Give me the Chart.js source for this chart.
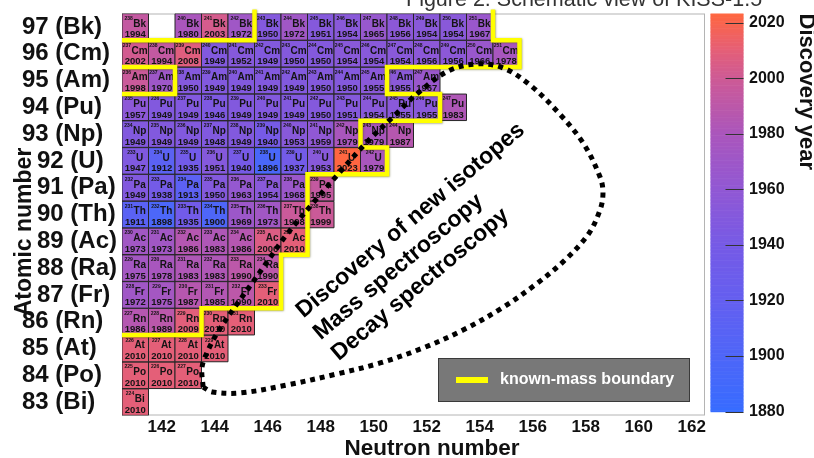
<!DOCTYPE html>
<html><head><meta charset="utf-8">
<script src="https://cdn.jsdelivr.net/npm/chart.js@4.4.1/dist/chart.umd.min.js"></script>
<style>html,body{margin:0;padding:0;background:#fff;overflow:hidden}#wrap{width:814px;height:458px;position:relative}</style>
</head><body><div id="wrap"><canvas id="c" width="814" height="458"></canvas></div>
<script>
// ---------------- data ----------------
const elementSymbols = ['Bi','Po','At','Rn','Fr','Ra','Ac','Th','Pa','U','Np','Pu','Am','Cm','Bk'];
const protonNumbers  = [83,84,85,86,87,88,89,90,91,92,93,94,95,96,97];
const indentedRows   = [87,88,89,90,91,92]; // labels set in beside the axis title
const firstNeutron = 141; // every row starts at N = 141
const yearsBi = [2010];
const yearsPo = [2010,2010,2010];
const yearsAt = [2010,2010,2010,2010];
const yearsRn = [1986,1989,2009,2010,2010];
const yearsFr = [1972,1975,1987,1985,1990,2010];
const yearsRa = [1975,1978,1983,1983,1990,1990];
const yearsAc = [1973,1973,1986,1983,1986,2006,2010];
const yearsTh = [1911,1898,1935,1900,1969,1973,1998,1999];
const yearsPa = [1949,1938,1913,1950,1963,1954,1968,1995];
const yearsU  = [1947,1912,1935,1951,1940,1896,1937,1953,2023,1979];
const yearsNp = [1949,1949,1949,1948,1949,1940,1953,1959,1979,1979,1987];
const yearsPu = [1957,1949,1949,1946,1949,1949,1949,1950,1951,1954,1955,1955,1983];
const yearsAm = [1998,1970,1950,1949,1949,1949,1949,1950,1950,1955,1955,1967];
const yearsCm = [2002,1994,2008,1949,1952,1949,1950,1950,1954,1954,1954,1956,1956,1966,1978];
const yearsBk = [1994,null,1980,2003,1972,1950,1972,1951,1954,1965,1956,1954,1954,1967];
const yearRows = [yearsBi,yearsPo,yearsAt,yearsRn,yearsFr,yearsRa,yearsAc,yearsTh,yearsPa,yearsU,yearsNp,yearsPu,yearsAm,yearsCm,yearsBk];

const neutronTicks = [142,144,146,148,150,152,154,156,158,160,162];
const yearTicks = [1880,1900,1920,1940,1960,1980,2000,2020];

// known-mass boundary (N, Z) – three pieces
const boundaryTopN  = [140.5,145.5,145.5];
const boundaryTopZ  = [96.5,96.5,97.65];
const boundaryAmN   = [140.5,142.5,142.5,140.5];
const boundaryAmZ   = [95.5,95.5,94.5,94.5];
const boundaryMainN = [154.5,154.5,155.5,155.5,150.5,150.5,152.5,152.5,149.5,149.5,150.5,150.5,147.5,147.5,146.5,146.5,143.5,143.5,140.5];
const boundaryMainZ = [97.65,96.5,96.5,95.5,95.5,94.5,94.5,93.5,93.5,92.5,92.5,91.5,91.5,88.5,88.5,86.5,86.5,85.5,85.5];

// dotted "new isotopes" region outline (N, Z)
const regionN = [143.56,143.52,143.75,144.12,144.76,145.41,146.08,146.76,147.71,148.73,149.75,150.80,151.63,152.80,153.90,154.88,155.90,156.95,157.90,158.54,158.65,158.54,158.08,157.14,156.08,154.84,153.37,151.86,150.24,148.61,146.73,144.95,143.90,143.56];
const regionZ = [83.56,84.31,84.94,85.62,86.55,87.44,88.38,89.31,90.43,91.59,92.71,93.71,94.50,95.35,95.62,95.47,94.83,93.82,92.67,91.40,90.80,90.17,89.24,88.23,87.37,86.51,85.69,85.02,84.46,84.05,83.64,83.34,83.38,83.56];

const annotationLines = ['Discovery of new isotopes','Mass spectroscopy','Decay spectroscopy'];
const annotationN = [147.35,148.0,148.68];
const annotationZ = [86.12,85.3,84.52];

// ---------------- style ----------------
const FF = "'Liberation Sans', Arial, Helvetica, sans-serif";
const paletteYears = [1880,1900,1920,1940,1960,1980,2000,2010,2023];
const paletteRGB = [[55,108,255],[78,102,248],[100,95,240],[118,90,230],[145,88,212],[170,86,188],[205,90,150],[228,95,120],[255,102,65]];
function yearColor(y){
  if (y <= paletteYears[0]) return `rgb(${paletteRGB[0].join(',')})`;
  for (let i=0;i<paletteYears.length-1;i++){
    if (y <= paletteYears[i+1]){
      const t=(y-paletteYears[i])/(paletteYears[i+1]-paletteYears[i]);
      const a=paletteRGB[i], b=paletteRGB[i+1];
      return `rgb(${Math.round(a[0]+(b[0]-a[0])*t)},${Math.round(a[1]+(b[1]-a[1])*t)},${Math.round(a[2]+(b[2]-a[2])*t)})`;
    }
  }
  return `rgb(${paletteRGB[paletteRGB.length-1].join(',')})`;
}

const cellPoints = [];
protonNumbers.forEach((z,i)=>{
  yearRows[i].forEach((yr,k)=>{
    if (yr!==null) cellPoints.push({x:firstNeutron+k, y:z, year:yr, mass:z+firstNeutron+k, sym:elementSymbols[i]});
  });
});
const zip = (a,b)=>a.map((v,i)=>({x:v,y:b[i]}));
const zLabel = (v)=>{const i=protonNumbers.indexOf(v); return i<0?'':`${v} (${elementSymbols[i]})`;};

const CELL_INDEX = 4;
const BOUNDARY_IDX = [1,2,3];

const cellLabels = {
  id:'cellLabels',
  beforeDatasetDraw(chart,args){
    if (BOUNDARY_IDX.includes(args.index)){
      const c=chart.ctx; c.save();
      c.shadowColor='rgba(70,70,0,0.55)'; c.shadowBlur=2; c.shadowOffsetX=0.5; c.shadowOffsetY=0.5;
    }
  },
  afterDatasetDraw(chart,args){
    if (BOUNDARY_IDX.includes(args.index)){ chart.ctx.restore(); return; }
    if (args.index!==CELL_INDEX) return;
    const c=chart.ctx, ds=chart.data.datasets[args.index];
    c.save(); c.fillStyle='#141414'; c.textBaseline='alphabetic';
    args.meta.data.forEach((pt,i)=>{
      const d=ds.data[i], cx=pt.x, cy=pt.y;
      const mt=String(d.mass);
      c.font=`bold 5px ${FF}`; const mw=c.measureText(mt).width;
      c.font=`bold 10px ${FF}`; const sw=c.measureText(d.sym).width;
      const x0=cx-(mw+sw+0.5)/2;
      c.textAlign='left';
      c.font=`bold 5px ${FF}`; c.fillText(mt,x0,cy-7);
      c.font=`bold 10px ${FF}`; c.fillText(d.sym,x0+mw+0.5,cy-0.2);
      c.textAlign='center';
      c.font=`bold 9.5px ${FF}`; c.fillText(String(d.year),cx,cy+10.4);
    });
    c.restore();
  }
};

const decorations = {
  id:'decorations',
  beforeDatasetsDraw(chart){
    const {ctx:c, chartArea:a}=chart;
    c.save(); c.strokeStyle='#b4b4b4'; c.lineWidth=1;
    c.strokeRect(a.left+0.5,a.top+0.5,a.right-a.left-1,a.bottom-a.top-1);
    c.restore();
  },
  afterDraw(chart){
    const {ctx:c, chartArea:a, scales}=chart;
    const sx=scales.x, sy=scales.y, cb=scales.cb;
    c.save();
    // figure caption (cut at the top)
    c.fillStyle='#333'; c.font=`21.5px ${FF}`; c.textAlign='left'; c.textBaseline='alphabetic';
    c.fillText('Figure 2: Schematic view of KISS-1.5', 406, 6);
    // axis titles
    c.fillStyle='#111'; c.font=`bold 22.5px ${FF}`; c.textAlign='center'; c.textBaseline='middle';
    c.fillText('Neutron number', a.left+310, 449);
    c.save(); c.translate(25,232); c.rotate(-Math.PI/2); c.font=`bold 23px ${FF}`; c.fillText('Atomic number',0,0); c.restore();
    // colour bar
    const bx=a.right+5.5, bw=33;
    for (let y=1880; y<2023.3; y+=0.5){
      const p0=cb.getPixelForValue(y), p1=cb.getPixelForValue(Math.min(y+0.5,2023.3));
      c.fillStyle=yearColor(y+0.25); c.fillRect(bx,p1,bw,p0-p1+0.6);
    }
    c.strokeStyle='#333'; c.lineWidth=1;
    yearTicks.forEach(t=>{ const p=Math.round(cb.getPixelForValue(t))+0.5; c.beginPath(); c.moveTo(bx+bw-18,p); c.lineTo(bx+bw,p); c.stroke(); });
    // annotations
    c.fillStyle='#000'; c.font=`bold 23px ${FF}`; c.textAlign='left'; c.textBaseline='alphabetic';
    annotationLines.forEach((t,i)=>{
      c.save(); c.translate(sx.getPixelForValue(annotationN[i]), sy.getPixelForValue(annotationZ[i]));
      c.rotate(-40*Math.PI/180); c.fillText(t,0,0); c.restore();
    });
    // legend box
    const lx=a.right-267, ly=a.bottom-57.5, lw=252, lh=44;
    c.fillStyle='#787878'; c.fillRect(lx,ly,lw,lh);
    c.strokeStyle='#3a3a3a'; c.lineWidth=1; c.strokeRect(lx+0.5,ly+0.5,lw-1,lh-1);
    c.strokeStyle='#ffff00'; c.lineWidth=6; c.beginPath(); c.moveTo(lx+18,ly+lh/2); c.lineTo(lx+50,ly+lh/2); c.stroke();
    c.fillStyle='#fff'; c.font=`bold 16px ${FF}`; c.textBaseline='middle'; c.fillText('known-mass boundary', lx+62, ly+lh/2);
    c.restore();
  }
};

const lineStyle = {showLine:true, pointRadius:0, fill:false, clip:false, borderColor:'#ffff00', borderWidth:4.5, borderCapStyle:'butt', borderJoinStyle:'miter', tension:0};
const noPad = (s)=>{ s.paddingTop=0; s.paddingBottom=0; s.paddingLeft=0; s.paddingRight=0; };
const cellRadius = (ctx)=>{const s=ctx.chart.scales.x; return s?Math.abs(s.getPixelForValue(1)-s.getPixelForValue(0))/2/Math.SQRT1_2:19;};
const zTickFont = {family:FF, weight:'bold', size:24};

new Chart(document.getElementById('c'), {
  type:'scatter',
  data:{datasets:[
    {label:'new isotopes region', data:zip(regionN,regionZ), showLine:true, pointRadius:0, fill:false, clip:false,
     borderColor:'#000', borderWidth:5, borderDash:[5,5], borderCapStyle:'butt', tension:0.35, order:0},
    Object.assign({label:'known-mass boundary', data:zip(boundaryMainN,boundaryMainZ), order:1}, lineStyle),
    Object.assign({label:'known-mass boundary Bk', data:zip(boundaryTopN,boundaryTopZ), order:2}, lineStyle),
    Object.assign({label:'known-mass boundary Am', data:zip(boundaryAmN,boundaryAmZ), order:3}, lineStyle),
    {label:'Discovery year', data:cellPoints, order:5, pointStyle:'rect',
     pointRadius:cellRadius, pointHoverRadius:cellRadius,
     backgroundColor:(ctx)=>ctx.raw?yearColor(ctx.raw.year):'#888',
     borderColor:'#262626', borderWidth:1}
  ]},
  options:{
    responsive:false, animation:false, events:[],
    layout:{padding:{top:13.5,left:22,right:0,bottom:0}},
    plugins:{legend:{display:false}, tooltip:{enabled:false}, title:{display:false}},
    scales:{
      x:{type:'linear', position:'bottom', min:140.5, max:162.5,
         afterBuildTicks:(s)=>{s.ticks=neutronTicks.map(v=>({value:v}));},
         afterFit:(s)=>{s.height=42.5; noPad(s);},
         grid:{display:false, drawTicks:false}, border:{display:false},
         ticks:{autoSkip:false, maxRotation:0, padding:2, color:'#111', font:{family:FF, weight:'bold', size:17}, callback:(v)=>String(v)}},
      y:{type:'linear', position:'left', weight:1, min:82.5, max:97.5,
         afterBuildTicks:(s)=>{s.ticks=protonNumbers.map(v=>({value:v}));},
         afterFit:(s)=>{s.width=15; noPad(s);},
         grid:{display:false, drawTicks:false}, border:{display:false},
         ticks:{autoSkip:false, mirror:true, padding:-15, crossAlign:'near', color:'#111', font:zTickFont,
                callback:(v)=>indentedRows.includes(v)?'':zLabel(v)}},
      yIn:{type:'linear', position:'left', weight:0, min:82.5, max:97.5,
         afterBuildTicks:(s)=>{s.ticks=indentedRows.map(v=>({value:v}));},
         afterFit:(s)=>{s.width=85; noPad(s);},
         grid:{display:false, drawTicks:false}, border:{display:false},
         ticks:{autoSkip:false, padding:0, crossAlign:'far', color:'#111', font:zTickFont, callback:(v)=>zLabel(v)}},
      cb:{type:'linear', position:'right', min:1878.6, max:2023.3,
         afterBuildTicks:(s)=>{s.ticks=yearTicks.map(v=>({value:v}));},
         afterFit:(s)=>{s.width=109; noPad(s);},
         grid:{display:false, drawTicks:true, tickLength:40}, border:{display:false},
         ticks:{autoSkip:false, padding:4, color:'#111', font:{family:FF, weight:'bold', size:16}, callback:(v)=>String(v)},
         title:{display:true, text:'Discovery year', align:'end', color:'#111', font:{family:FF, weight:'bold', size:22}, padding:{top:-5,bottom:0}}}
    }
  },
  plugins:[cellLabels, decorations]
});
</script></body></html>
